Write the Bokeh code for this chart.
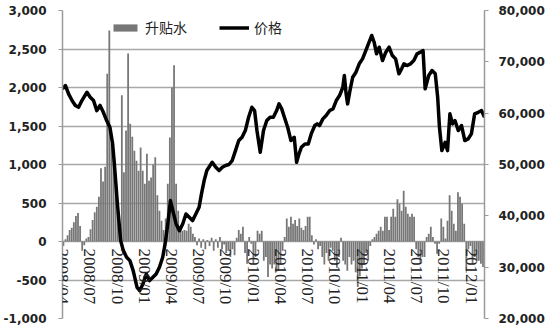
import math
import pandas as pd
from bokeh.plotting import figure
from bokeh.models import (LinearAxis, Range1d, FixedTicker, NumeralTickFormatter,
                          Legend, LegendItem, Label)
from bokeh.embed import file_html
from bokeh.resources import INLINE

# ---------------- data ----------------
tick_labels = ["2008/04", "2008/07", "2008/10", "2009/01", "2009/04", "2009/07",
               "2009/10", "2010/01", "2010/04", "2010/07", "2010/10", "2011/01",
               "2011/04", "2011/07", "2011/10", "2012/01"]

left_ticks = [-1000, -500, 0, 500, 1000, 1500, 2000, 2500, 3000]
right_ticks = [20000, 30000, 40000, 50000, 60000, 70000, 80000]

# weekly premium/discount (升贴水), first week ending 2008-04-04
spread_start = "2008-04-04"
spread = [
    -60, 30, 80, 150, 180, 250, 330, 370, 200, -120,
    -50, 40, 60, 160, 280, 380, 450, 580, 950, 780,
    970, 2180, 2740, 1270, 1180, 750, 400, 190, 1900, 900,
    1440, 2440, 1530, 1360, 1180, 1050, 920, 1220, 920, 750,
    1140,
    790, 830, 1000, 1095, 600, 400, 270, 150, 300,
    750, 1350, 2000, 2290, 750, 400, 200, 140, 150, 140,
    230, 190, 100, 60, -50, 40, -80, 30, -100, 20,
    -60, 50, -120, 30, -80, 60, -100, -40, -150,
    -120, -200, -100, -180, 50, 150, 100, 190, -150, -290,
    60, -30, -290, -200, 140, 100, 140, -250, -200, -460,
    -300, -350, -300, -400, -380, -300, -120, 60, 300, 190,
    320, 230, 280, 200, 300, 180, 150, 200, 320, 320,
    80, -40,
    30, -100, -60, -200, -300, -150, -250, -80, -120, -250,
    -340, -200, 50, -250, -300, -380, -200, -300, -250, -400,
    -590, -450, -350, -300, -150, -250, -60, 30, 60, 100,
    140, 190, 140, 320, 320, 150, 320, 425, 320, 550,
    490, 400, 660, 450, 360, 320, 360, 320, -100, -200,
    -290, -200, -200, 60, 100, 190, 60, -30, -160, -30,
    300, 190, 40, 270, 600, 400, 230, 140, 640, 580,
    490, 230, -380, -100, -60, -290, -200, -250, -250, -290,
    -330,
]

price_dates = [
    "2008-04-01", "2008-04-11", "2008-04-21", "2008-05-03", "2008-05-14", "2008-05-25",
    "2008-06-05", "2008-06-22", "2008-07-03", "2008-07-14", "2008-07-25", "2008-08-05",
    "2008-08-16", "2008-08-27", "2008-09-07", "2008-09-16", "2008-09-21", "2008-09-27",
    "2008-10-02", "2008-10-08", "2008-10-13", "2008-10-22", "2008-11-02", "2008-11-13",
    "2008-11-24", "2008-12-07", "2008-12-16", "2008-12-27",
    "2009-01-07", "2009-01-18", "2009-01-29", "2009-02-09", "2009-02-20", "2009-03-03",
    "2009-03-11", "2009-03-20", "2009-03-29", "2009-04-06", "2009-04-17", "2009-04-28",
    "2009-05-09", "2009-05-20", "2009-05-31", "2009-06-11", "2009-06-22", "2009-07-03",
    "2009-07-11", "2009-07-20", "2009-07-29", "2009-08-05", "2009-08-16", "2009-08-28",
    "2009-09-08", "2009-09-19", "2009-09-30", "2009-10-11", "2009-10-22", "2009-11-02",
    "2009-11-13", "2009-11-24", "2009-12-05", "2009-12-16", "2009-12-27",
    "2010-01-05", "2010-01-13", "2010-01-24", "2010-02-04", "2010-02-15", "2010-02-26",
    "2010-03-09", "2010-03-20", "2010-03-28", "2010-04-06", "2010-04-15", "2010-04-26",
    "2010-05-07", "2010-05-18", "2010-05-26", "2010-06-03", "2010-06-11", "2010-06-23",
    "2010-07-04", "2010-07-14", "2010-07-26", "2010-08-03", "2010-08-11", "2010-08-22",
    "2010-09-02", "2010-09-14", "2010-09-25", "2010-10-06", "2010-10-17", "2010-10-28",
    "2010-11-02", "2010-11-08", "2010-11-13", "2010-11-21", "2010-11-30", "2010-12-11",
    "2010-12-22",
    "2011-01-02", "2011-01-13", "2011-01-24", "2011-02-02", "2011-02-10", "2011-02-18",
    "2011-02-27", "2011-03-10", "2011-03-21", "2011-04-01", "2011-04-12", "2011-04-23",
    "2011-05-04", "2011-05-13", "2011-05-21", "2011-06-01", "2011-06-12", "2011-06-23",
    "2011-07-04", "2011-07-15", "2011-07-24", "2011-07-31", "2011-08-12", "2011-08-23",
    "2011-09-03", "2011-09-11", "2011-09-17", "2011-09-25", "2011-10-06", "2011-10-14",
    "2011-10-22", "2011-10-31", "2011-11-08", "2011-11-19", "2011-11-30", "2011-12-11",
    "2011-12-22",
    "2012-01-02", "2012-01-13", "2012-01-25", "2012-02-05", "2012-02-15",
]

price = [
    64740, 65380, 63800, 62460, 61500, 61150,
    62460, 64080, 63100, 62460, 60500, 61500,
    60170, 58560, 57250, 54070, 50760, 46280,
    42380, 38480, 35170, 33220, 31920, 31270,
    29330, 26070, 25430, 26790,
    28680, 27380, 28020, 28680, 29970, 31920,
    34530, 38420, 42970, 41020, 38420, 37120,
    38420, 40370, 39720, 39070, 40370, 41670,
    44270, 46870, 48820, 49460, 50440, 49460,
    48820, 49460, 49800, 50000, 50770, 52710,
    54660, 55310, 56610, 59200, 61150,
    60510, 56610, 52380, 56610, 58560, 59200,
    59200, 60510, 61810, 60830, 59200, 57250,
    54660, 55310, 50440, 52070, 53360, 54010,
    54010, 55960, 57590, 57920, 57590, 58890,
    59540, 60510, 60830, 62460, 63430, 65050,
    67330, 63760, 61810, 64410, 67000, 67980,
    69610,
    70580, 72200, 73820, 75130, 73820, 71560,
    72850, 70250, 71880, 72850, 71230, 70580,
    67660, 68630, 69610, 69280, 69610, 70250,
    71560, 71880, 72200, 64740, 67330, 68300,
    67660, 63100, 57250, 52710, 54330, 52710,
    59870, 57920, 58560, 56610, 57590, 54660,
    54980,
    55960, 59870, 60170, 60510, 59200,
]

# ---------------- figure ----------------
x_start = pd.Timestamp("2008-04-01")
x_end = pd.Timestamp("2012-02-15")

p = figure(width=550, height=329, x_axis_type="datetime", x_axis_location=None,
           x_range=Range1d(x_start, x_end), y_range=Range1d(-1000, 3000),
           output_backend="svg", toolbar_location=None,
           min_border_left=57, min_border_right=66, min_border_top=10,
           min_border_bottom=11)
p.title.visible = False
p.outline_line_color = None
p.background_fill_color = "white"
p.border_fill_color = "white"
p.extra_y_ranges = {"price": Range1d(20000, 80000)}

axis_color = "#9a9a9a"
label_font = "DejaVu Sans"

left = p.left[0]
left.ticker = FixedTicker(ticks=left_ticks)
left.formatter = NumeralTickFormatter(format="0,0")

right = LinearAxis(y_range_name="price", ticker=FixedTicker(ticks=right_ticks),
                   formatter=NumeralTickFormatter(format="0,0"))
p.add_layout(right, "right")

for ax, standoff in ((left, 12), (right, 10)):
    ax.axis_line_color = axis_color
    ax.axis_line_width = 1.5
    ax.major_tick_line_color = axis_color
    ax.major_tick_out = 4
    ax.major_tick_in = 0
    ax.minor_tick_line_color = None
    ax.major_label_standoff = standoff
    ax.major_label_text_font = label_font
    ax.major_label_text_font_size = "12px"
    ax.major_label_text_font_style = "bold"
    ax.major_label_text_color = "#222222"

p.xgrid.visible = False
p.ygrid.ticker = FixedTicker(ticks=left_ticks)
p.ygrid.grid_line_color = "#a8a8a8"
p.ygrid.grid_line_width = 1.5

bar_color = "#777777"
spread_dates = pd.date_range(spread_start, periods=len(spread), freq="7D")
bars = p.vbar(x=spread_dates, top=spread, bottom=0, width=6 * 86400000,
              fill_color=bar_color, line_color=None)

line = p.line(x=pd.to_datetime(price_dates), y=price, y_range_name="price",
              line_color="black", line_width=3.5, line_join="round")

# solid legend swatch for the bar series: a zero-height area along the range floor
swatch = p.varea(x=[x_start, x_end], y1=[left_ticks[0]] * 2, y2=[left_ticks[0]] * 2,
                 fill_color=bar_color)

tick_dates = pd.to_datetime([t.replace("/", "-") + "-01" for t in tick_labels])
for d, t in zip(tick_dates, tick_labels):
    p.add_layout(Label(x=d, y=0, text=t, angle=-math.pi / 2,
                       text_align="left", text_baseline="middle", y_offset=-7,
                       text_font="Liberation Serif", text_font_size="17px",
                       text_color="#222222"))

legend = Legend(items=[LegendItem(label="升贴水", renderers=[swatch]),
                       LegendItem(label="价格", renderers=[line])],
                orientation="horizontal", location=(48, 281),
                border_line_color=None, background_fill_alpha=0,
                padding=0, margin=0, spacing=32, label_standoff=5,
                glyph_width=30, glyph_height=9,
                label_text_font="Noto Sans CJK SC", label_text_font_size="14px",
                label_text_color="#222222")
p.add_layout(legend)

open("out.html", "w").write(file_html(p, INLINE))
